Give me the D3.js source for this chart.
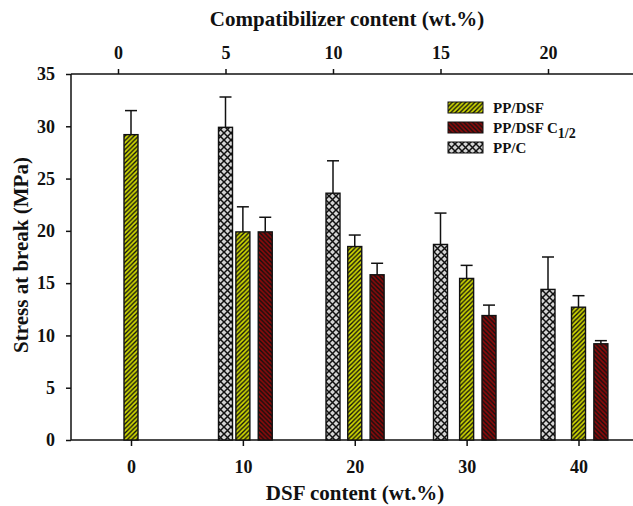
<!DOCTYPE html>
<html>
<head>
<meta charset="utf-8">
<script src="https://cdnjs.cloudflare.com/ajax/libs/d3/7.8.5/d3.min.js"></script>
<style>
  body { margin: 0; background: #fff; }
  svg text { font-family: "Liberation Serif", "Times New Roman", serif; font-weight: bold; fill: #111; }
</style>
</head>
<body>
<svg id="chart" width="633" height="506"></svg>
<script>
// DSF content (bottom axis) and compatibilizer content (top axis)
var dsfContent = [0, 10, 20, 30, 40];
var compatContent = [5, 10, 15, 20];
var yTicks = [0, 5, 10, 15, 20, 25, 30, 35];

// PP/DSF stress at break, at each DSF content
var ppDsf = [29.2, 19.9, 18.5, 15.45, 12.7];
var ppDsfErr = [2.3, 2.4, 1.1, 1.25, 1.1];

// PP/DSF C1/2 at DSF 10..40
var ppDsfC = [19.9, 15.8, 11.9, 9.2];
var ppDsfCErr = [1.4, 1.1, 1.0, 0.3];

// PP/C at compatibilizer 5..20
var ppC = [29.9, 23.6, 18.7, 14.4];
var ppCErr = [2.9, 3.1, 3.0, 3.1];

var svg = d3.select('#chart');
var pLeft = 71, pRight = 633, pTop = 74, pBottom = 440;

var xBottom = d3.scaleLinear().domain([0, 40]).range([131, 578.5]);
var xTop = d3.scaleLinear().domain([0, 20]).range([118, 548]);
var yScale = d3.scaleLinear().domain([0, 35]).range([pBottom, pTop]);

var barW = 14;
var cShift = 2;   // PP/DSF C1/2 bars sit 2 wt.% right of their DSF tick

// patterns
var defs = svg.append("defs");
var pY = defs.append("pattern").attr("id", "hatchY").attr("patternUnits", "userSpaceOnUse")
  .attr("width", 4.5).attr("height", 4.5);
pY.append("rect").attr("width", 4.5).attr("height", 4.5).attr("fill", "#cdd600");
pY.append("path").attr("d", "M-1,1 L1,-1 M0,4.5 L4.5,0 M3.5,5.5 L5.5,3.5")
  .attr("stroke", "#111").attr("stroke-width", 1.4);

var pR = defs.append("pattern").attr("id", "hatchR").attr("patternUnits", "userSpaceOnUse")
  .attr("width", 4.5).attr("height", 4.5);
pR.append("rect").attr("width", 4.5).attr("height", 4.5).attr("fill", "#8a0a0a");
pR.append("path").attr("d", "M-1,3.5 L1,5.5 M0,0 L4.5,4.5 M3.5,-1 L5.5,1")
  .attr("stroke", "#111").attr("stroke-width", 1.4);

var pC = defs.append("pattern").attr("id", "cross").attr("patternUnits", "userSpaceOnUse")
  .attr("width", 7).attr("height", 7);
pC.append("rect").attr("width", 7).attr("height", 7).attr("fill", "#d4d4d4");
pC.append("path").attr("d", "M0,0 L7,7 M7,0 L0,7")
  .attr("stroke", "#111").attr("stroke-width", 1.5);

// axes
svg.append("g")
  .attr("transform", "translate(" + pLeft + ",0)")
  .call(d3.axisLeft(yScale).tickValues(yTicks).tickSize(5).tickPadding(11))
  .call(function(g){ g.select(".domain").remove(); })
  .call(function(g){ g.selectAll("text").attr("font-size", 18).style("font-family", null); });

svg.append("g")
  .attr("transform", "translate(" + pRight + ",0)")
  .call(d3.axisLeft(yScale).tickValues(yTicks).tickSize(-5).tickFormat(""))
  .call(function(g){ g.select(".domain").remove(); });

svg.append("g")
  .attr("transform", "translate(0," + pBottom + ")")
  .call(d3.axisBottom(xBottom).tickValues(dsfContent).tickSize(6).tickPadding(14))
  .call(function(g){ g.select(".domain").remove(); })
  .call(function(g){ g.selectAll("text").attr("font-size", 18).style("font-family", null); });

svg.append("g")
  .attr("transform", "translate(0," + pTop + ")")
  .call(d3.axisTop(xTop).tickValues([0].concat(compatContent)).tickSize(5).tickPadding(10))
  .call(function(g){ g.select(".domain").remove(); })
  .call(function(g){ g.selectAll("text").attr("font-size", 18).style("font-family", null); });

svg.selectAll(".tick line").attr("stroke", "#111").attr("stroke-width", 1.5);

// frame lines
svg.append("line").attr("x1", pLeft).attr("x2", pLeft).attr("y1", pTop).attr("y2", pBottom)
  .attr("stroke", "#111").attr("stroke-width", 1.5);
svg.append("line").attr("x1", pLeft).attr("x2", pRight).attr("y1", pBottom).attr("y2", pBottom)
  .attr("stroke", "#111").attr("stroke-width", 1.5);
svg.append("line").attr("x1", pLeft).attr("x2", pRight).attr("y1", pTop).attr("y2", pTop)
  .attr("stroke", "#111").attr("stroke-width", 1.5);

// bar series
function drawSeries(vals, errs, xs, fill){
  var g = svg.append("g");
  var d = vals.map(function(v, i){ return {x: xs[i], v: v, e: errs[i]}; });
  g.selectAll("line.err").data(d).enter().append("line")
    .attr("x1", function(p){ return p.x; }).attr("x2", function(p){ return p.x; })
    .attr("y1", function(p){ return yScale(p.v); }).attr("y2", function(p){ return yScale(p.v + p.e); })
    .attr("stroke", "#111").attr("stroke-width", 1.5);
  g.selectAll("line.cap").data(d).enter().append("line")
    .attr("x1", function(p){ return p.x - 6; }).attr("x2", function(p){ return p.x + 6; })
    .attr("y1", function(p){ return yScale(p.v + p.e); }).attr("y2", function(p){ return yScale(p.v + p.e); })
    .attr("stroke", "#111").attr("stroke-width", 1.5);
  g.selectAll("rect").data(d).enter().append("rect")
    .attr("x", function(p){ return p.x - barW / 2; })
    .attr("y", function(p){ return yScale(p.v); })
    .attr("width", barW)
    .attr("height", function(p){ return yScale(0) - yScale(p.v); })
    .attr("fill", fill).attr("stroke", "#111").attr("stroke-width", 1.4);
}

drawSeries(ppC, ppCErr, compatContent.map(function(c){ return xTop(c); }), "url(#cross)");
drawSeries(ppDsf, ppDsfErr, dsfContent.map(function(c){ return xBottom(c); }), "url(#hatchY)");
drawSeries(ppDsfC, ppDsfCErr, dsfContent.slice(1).map(function(c){ return xBottom(c + cShift); }), "url(#hatchR)");

// legend
var legend = [
  {name: "PP/DSF", sub: null, fill: "url(#hatchY)"},
  {name: "PP/DSF C", sub: "1/2", fill: "url(#hatchR)"},
  {name: "PP/C", sub: null, fill: "url(#cross)"}
];
var lg = svg.append("g").attr("transform", "translate(448,102)");
legend.forEach(function(l, i){
  lg.append("rect").attr("x", 0).attr("y", i * 20).attr("width", 35).attr("height", 11)
    .attr("fill", l.fill).attr("stroke", "#111").attr("stroke-width", 1);
  var t = lg.append("text").attr("x", 45).attr("y", i * 20 + 11).attr("font-size", 15).text(l.name);
  if (l.sub) t.append("tspan").attr("dy", 5).attr("font-size", 14).text(l.sub);
});

// titles
svg.append("text").attr("x", 347).attr("y", 26).attr("text-anchor", "middle")
  .attr("font-size", 21).text("Compatibilizer content (wt.%)");
svg.append("text").attr("x", 355).attr("y", 500).attr("text-anchor", "middle")
  .attr("font-size", 21).text("DSF content (wt.%)");
svg.append("text").attr("transform", "translate(28,255) rotate(-90)").attr("text-anchor", "middle")
  .attr("font-size", 21).text("Stress at break (MPa)");
</script>
</body>
</html>
